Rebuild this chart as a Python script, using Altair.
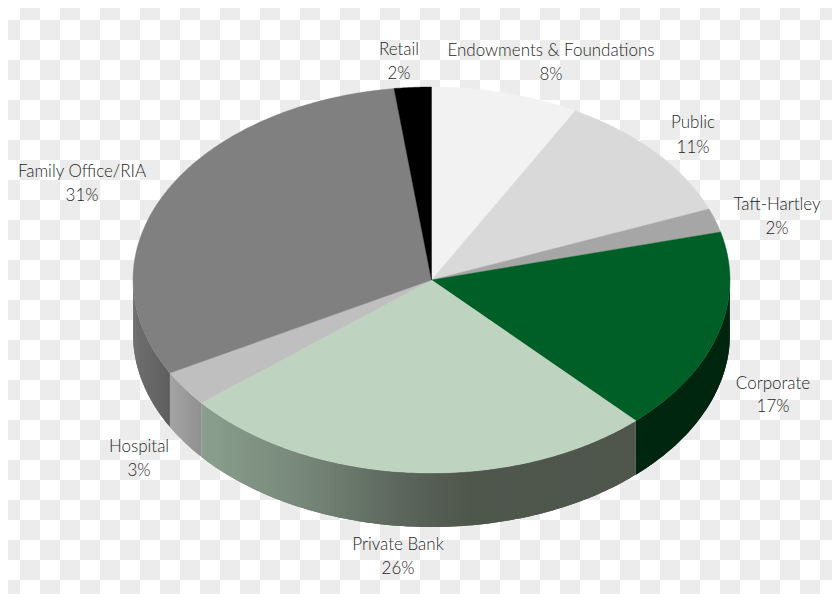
import math
import altair as alt

# ---- data ----
categories = ["Endowments & Foundations", "Public", "Taft-Hartley", "Corporate",
              "Private Bank", "Hospital", "Family Office/RIA", "Retail"]
shares = [8, 11, 2, 17, 26, 3, 31, 2]
top_colors = ["#f2f2f2", "#d9d9d9", "#a6a6a6", "#005f27",
              "#bfd4c0", "#bfbfbf", "#808080", "#000000"]
# side wall colour stops per slice: (screen x, colour)
side_stops = {
    "Corporate": [(636, "#00260f"), (730, "#00260f")],
    "Private Bank": [(203, "#8a9f8d"), (300, "#778879"), (400, "#5c665c"), (470, "#4f564c"), (636, "#4f564c")],
    "Hospital": [(170, "#a4a4a4"), (203, "#8f8f8f")],
    "Family Office/RIA": [(133, "#707070"), (170, "#5e5e5e")],
}
label_names = ["Retail", "Endowments & Foundations", "Public", "Taft-Hartley",
               "Corporate", "Private Bank", "Hospital", "Family Office/RIA"]
label_pct = ["2%", "8%", "11%", "2%", "17%", "26%", "3%", "31%"]
label_cx = [399, 551, 693, 777, 773, 398, 139, 82]
label_y1 = [50, 51, 123, 205, 384, 545, 447, 172]
label_y2 = [74, 75, 148, 229, 407, 569, 471, 196]

CX, CY, RX, RY, DEPTH = 431.5 - 8, 280 - 8, 298.5, 193.0, 54.0
W, H = 824, 586
FONT = "Lato"


def pt(a):
    return [CX + RX * math.sin(a), CY - RY * math.cos(a)]


def hex2rgb(h):
    return [int(h[i:i + 2], 16) for i in (1, 3, 5)]


def color_at(stops, x):
    x = x + 8
    if x <= stops[0][0]:
        return stops[0][1]
    for (x0, c0), (x1, c1) in zip(stops, stops[1:]):
        if x <= x1:
            t = (x - x0) / (x1 - x0)
            a, b = hex2rgb(c0), hex2rgb(c1)
            return "#%02x%02x%02x" % tuple(round(p + (q - p) * t) for p, q in zip(a, b))
    return stops[-1][1]


def feature(poly, color, order):
    return {"type": "Feature",
            "geometry": {"type": "Polygon", "coordinates": [poly + [poly[0]]]},
            "properties": {"color": color, "order": order}}


# checkerboard of the transparent reference
checker = []
for i in range(0, 43):
    for j in range(0, 31):
        if (i + j) % 2 == 1:
            x0, y0 = max(i * 20 - 8, 0), max(j * 20 - 8, 0)
            x1, y1 = min(i * 20 + 12, W), min(j * 20 + 12, H)
            if x1 > x0 and y1 > y0:
                checker.append(feature([[x0, y0], [x1, y0], [x1, y1], [x0, y1]], "#ececec", 0))

sides, tops = [], []
cum = 0
for name, share, col in zip(categories, shares, top_colors):
    a0 = cum / sum(shares) * 2 * math.pi
    cum += share
    a1 = cum / sum(shares) * 2 * math.pi
    n = max(4, int((a1 - a0) * 120))
    arc = [a0 + (a1 - a0) * k / n for k in range(n + 1)]
    tops.append(feature([[CX, CY]] + [pt(a) for a in arc], col, 2))
    if name in side_stops:
        # visible wall only; each strip runs over the next one, so no seam shows
        lo, hi = max(a0, math.pi / 2), min(a1, 3 * math.pi / 2)
        m = max(4, int((hi - lo) * 60))
        wall = [lo + (hi - lo) * k / m for k in range(m + 1)]
        for k in range(m):
            seg = wall[k:k + 3]
            upper = [pt(a) for a in seg]
            lower = [[p[0], p[1] + DEPTH] for p in reversed(upper)]
            mid = pt((wall[k] + wall[k + 1]) / 2)
            sides.append(feature(upper + lower, color_at(side_stops[name], mid[0]), 1))


def shapes(feats, sw):
    return alt.Chart(alt.Data(values=feats)).mark_geoshape(strokeWidth=sw).encode(
        fill=alt.Color("properties.color:N", scale=None, legend=None),
        stroke=alt.Color("properties.color:N", scale=None, legend=None),
    ).project(type="identity", scale=1, translate=[0, 0])


labels = []
for n, p, cx, y1, y2 in zip(label_names, label_pct, label_cx, label_y1, label_y2):
    labels.append({"t": n, "lon": cx - 8, "lat": y1 - 8})
    labels.append({"t": p, "lon": cx - 8, "lat": y2 - 8})

text = alt.Chart(alt.Data(values=labels)).mark_text(
    font=FONT, fontSize=17, fontWeight=300, color="#262626", align="center", baseline="middle"
).encode(longitude="lon:Q", latitude="lat:Q", text="t:N").project(
    type="identity", scale=1, translate=[0, 0])

chart = alt.layer(shapes(checker, 0), shapes(sides, 0), shapes(tops, 0.4), text).properties(
    width=W, height=H, padding=0, autosize=alt.AutoSizeParams(type="none")
).configure_view(stroke=None)

chart.save("out.html", embed_options={"renderer": "svg", "actions": False})
